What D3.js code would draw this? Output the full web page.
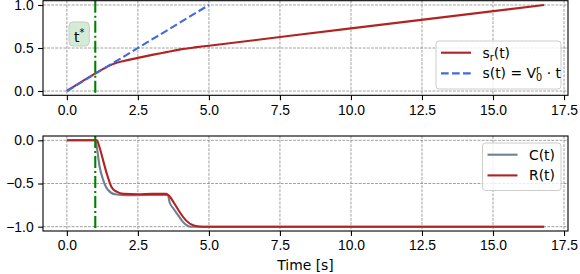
<!DOCTYPE html>
<html lang="en">
<head>
<meta charset="UTF-8">
<title>s_r(t), C(t), R(t)</title>
<script src="https://d3js.org/d3.v7.min.js"></script>
<style>
  body { margin: 0; background: #fff; }
  svg { display: block; font-family: "DejaVu Sans", sans-serif; }
  .tick text { font-size: 13.9px; fill: #000; }
</style>
</head>
<body>
<div id="chart"></div>
<script>
// values
const tStar = 1.0;

const srT = [0, 1.3, 1.5, 1.7, 2.0, 2.5, 3.0, 3.5, 4.0, 4.5, 5.0, 10.0, 16.8];
const srV = [0, 0.26, 0.295, 0.322, 0.35, 0.385, 0.42, 0.452, 0.484, 0.507, 0.527, 0.728, 1.0];

const linT = [0, 5];
const linV = [0, 1];

const cT = [0, 1.0, 1.05, 1.15, 1.28, 1.45, 1.7, 2.1, 3.55, 3.62, 3.75, 3.9, 4.05, 4.2, 4.35, 16.8];
const cV = [0, 0, -0.07, -0.3, -0.46, -0.575, -0.625, -0.635, -0.63, -0.72, -0.79, -0.86, -0.93, -0.98, -1.0, -1.0];

const rT = [0, 1.05, 1.15, 1.25, 1.4, 1.57, 1.75, 2.0, 2.5, 3.0, 3.5, 3.62, 3.8, 3.97, 4.2, 4.5, 4.8, 16.8];
const rV = [0, 0, -0.08, -0.2, -0.38, -0.54, -0.595, -0.62, -0.625, -0.62, -0.62, -0.65, -0.74, -0.83, -0.93, -0.99, -1.0, -1.0];

const xTicks = [0, 2.5, 5, 7.5, 10, 12.5, 15, 17.5];
const yTicksTop = [0, 0.5, 1.0];
const yTicksBot = [-1.0, -0.5, 0];

const width = 580, height = 274;
const red = '#b22222', blue = '#4169e1', grey = '#708090', green = '#008000';

const svg = d3.select('#chart').append('svg')
    .attr('width', width)
    .attr('height', height);

const x = d3.scaleLinear().domain([-0.84, 17.64]).range([43, 568]);
const yTop = d3.scaleLinear().domain([-0.05, 1.05]).range([95.3, 0.7]);
const yBot = d3.scaleLinear().domain([-1.05, 0.05]).range([231, 136]);

const fmt = d3.format('.1f');

// draws one panel: grid, axes; returns group
function panel(y, yTicks) {
    const g = svg.append('g');
    const [y0, y1] = y.range();
    const [x0, x1] = x.range();

    // grid
    g.append('g').selectAll('line').data(xTicks).join('line')
        .attr('x1', d => x(d)).attr('x2', d => x(d))
        .attr('y1', y1).attr('y2', y0)
        .attr('stroke', '#808080').attr('stroke-width', 0.75)
        .attr('stroke-dasharray', '2.8,1.3');
    g.append('g').selectAll('line').data(yTicks).join('line')
        .attr('x1', x0).attr('x2', x1)
        .attr('y1', d => y(d)).attr('y2', d => y(d))
        .attr('stroke', '#808080').attr('stroke-width', 0.75)
        .attr('stroke-dasharray', '2.8,1.3');

    const xa = g.append('g').attr('transform', `translate(0,${y0})`)
        .call(d3.axisBottom(x).tickValues(xTicks).tickFormat(fmt).tickSizeOuter(0).tickSize(4.9).tickPadding(4.5));
    const ya = g.append('g').attr('transform', `translate(${x0},0)`)
        .call(d3.axisLeft(y).tickValues(yTicks).tickFormat(fmt).tickSizeOuter(0).tickSize(4.9).tickPadding(4.5));
    [xa, ya].forEach(a => {
        a.select('.domain').remove();
        a.selectAll('.tick line').attr('stroke', '#000').attr('stroke-width', 1.1);
    });
    return g;
}

function spines(g, y) {
    const [y0, y1] = y.range();
    const [x0, x1] = x.range();
    g.append('rect')
        .attr('x', x0).attr('y', y1)
        .attr('width', x1 - x0).attr('height', y0 - y1)
        .attr('fill', 'none').attr('stroke', '#000').attr('stroke-width', 1.1);
}

function curve(g, y, ts, vs, color, dash) {
    const line = d3.line()
        .x(i => x(ts[i]))
        .y(i => y(vs[i]))
        .curve(d3.curveMonotoneX);
    g.append('path')
        .attr('d', line(d3.range(ts.length)))
        .attr('fill', 'none')
        .attr('stroke', color)
        .attr('stroke-width', 2.1)
        .attr('stroke-dasharray', dash || null);
}

function tLine(g, y) {
    g.append('line')
        .attr('x1', x(tStar)).attr('x2', x(tStar))
        .attr('y1', y.range()[1]).attr('y2', y.range()[0])
        .attr('stroke', green).attr('stroke-width', 2.1)
        .attr('stroke-dasharray', '12,3,2,3');
}

// text with sub / superscripts; parts: {t, sub, sup, stay}
function rich(g, x0, yb, parts, size) {
    let cx = x0;
    parts.forEach(p => {
        const small = p.sub || p.sup;
        const fs = small ? size * 0.7 : size;
        const dy = p.sub ? size * 0.22 : p.sup ? -size * 0.42 : 0;
        const tx = g.append('text')
            .attr('x', cx).attr('y', yb + dy)
            .attr('font-size', fs)
            .attr('fill', '#000')
            .style('white-space', 'pre')
            .text(p.t);
        if (!p.stay) cx += tx.node().getComputedTextLength();
    });
    return cx;
}

function legend(g, bx, by, bw, bh, items) {
    g.append('rect')
        .attr('x', bx).attr('y', by).attr('width', bw).attr('height', bh)
        .attr('rx', 3)
        .attr('fill', 'rgba(255,255,255,0.8)')
        .attr('stroke', '#cccccc').attr('stroke-width', 1);
    items.forEach((it, i) => {
        const cy = by + 11.7 + i * 20.7;
        g.append('line')
            .attr('x1', bx + 5).attr('x2', bx + 35)
            .attr('y1', cy).attr('y2', cy)
            .attr('stroke', it.color).attr('stroke-width', 2.1)
            .attr('stroke-dasharray', it.dash || null);
        rich(g, bx + 46.5, cy + 5, it.parts, 13.9);
    });
}

// ---- top panel
const topG = panel(yTop, yTicksTop);
curve(topG, yTop, srT, srV, red);
curve(topG, yTop, linT, linV, blue, '7.7,3.3');
tLine(topG, yTop);
spines(topG, yTop);

// t* label
const lab = topG.append('g');
const box = lab.append('rect');
const lx = x(0.25), ly = yTop(0.57);
const endX = rich(lab, lx, ly, [{ t: 't' }, { t: '*', sup: true }], 13.9);
box.attr('x', lx - 5).attr('y', ly - 20)
    .attr('width', endX - lx + 10).attr('height', 24)
    .attr('rx', 4)
    .attr('fill', '#d5ebd5')
    .attr('stroke', '#c4cfc4').attr('stroke-width', 1);

legend(topG, 436, 41, 125, 48, [
    { color: red, parts: [{ t: 's' }, { t: 'r', sub: true }, { t: '(t)' }] },
    { color: blue, dash: '7.7,3.3', parts: [
        { t: 's(t)' }, { t: ' = ' }, { t: 'V' },
        { t: 'r', sup: true, stay: true }, { t: '0', sub: true },
        { t: ' · t' }] }
]);

// ---- bottom panel
const botG = panel(yBot, yTicksBot);
curve(botG, yBot, cT, cV, grey);
curve(botG, yBot, rT, rV, red);
tLine(botG, yBot);
spines(botG, yBot);

legend(botG, 482.5, 143, 78.5, 47.5, [
    { color: grey, parts: [{ t: 'C(t)' }] },
    { color: red, parts: [{ t: 'R(t)' }] }
]);

svg.append('text')
    .attr('x', (x.range()[0] + x.range()[1]) / 2)
    .attr('y', 270)
    .attr('text-anchor', 'middle')
    .attr('font-size', 13.9)
    .text('Time [s]');
</script>
</body>
</html>
